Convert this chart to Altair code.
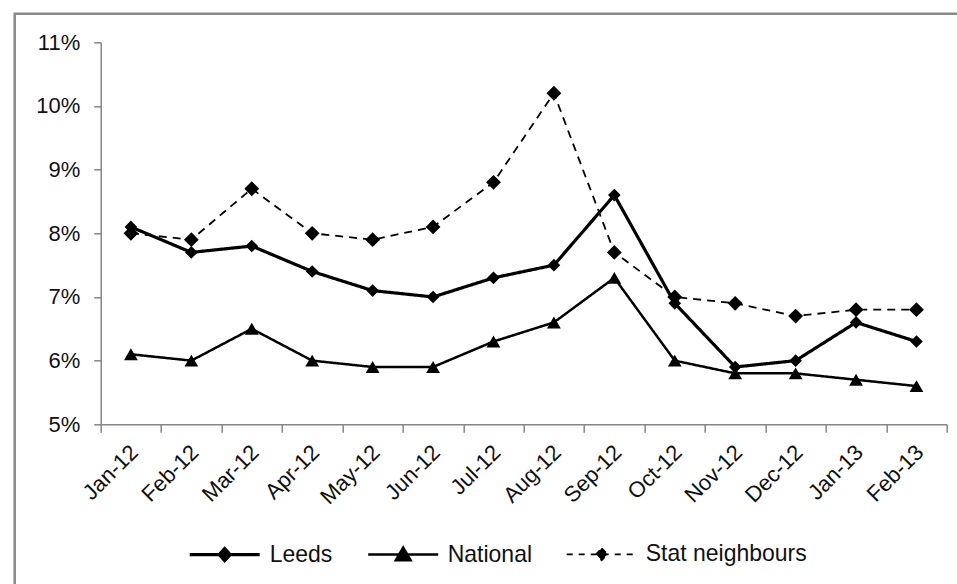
import altair as alt
import pandas as pd

months = ["Jan-12", "Feb-12", "Mar-12", "Apr-12", "May-12", "Jun-12", "Jul-12",
          "Aug-12", "Sep-12", "Oct-12", "Nov-12", "Dec-12", "Jan-13", "Feb-13"]
series = ["Leeds", "National", "Stat neighbours"]
leeds = [8.1, 7.7, 7.8, 7.4, 7.1, 7.0, 7.3, 7.5, 8.6, 6.9, 5.9, 6.0, 6.6, 6.3]
national = [6.1, 6.0, 6.5, 6.0, 5.9, 5.9, 6.3, 6.6, 7.3, 6.0, 5.8, 5.8, 5.7, 5.6]
stat_neighbours = [8.0, 7.9, 8.7, 8.0, 7.9, 8.1, 8.8, 10.2, 7.7, 7.0, 6.9, 6.7, 6.8, 6.8]
y_ticks = [0.05, 0.06, 0.07, 0.08, 0.09, 0.10, 0.11]

rows = []
for s, vals in zip(series, [leeds, national, stat_neighbours]):
    for m, v in zip(months, vals):
        rows.append({"month": m, "series": s, "value": v / 100.0})
df = pd.DataFrame(rows)

W, H = 846, 382
FONT = "Liberation Sans"
AXIS_GRAY = "#868686"

x_enc = alt.X(
    "month:O",
    bandPosition=0.5,
    scale=alt.Scale(type="band", domain=months, paddingInner=0, paddingOuter=0),
    axis=alt.Axis(
        title=None, tickBand="extent", labelAngle=-45, labelAlign="right",
        labelBaseline="middle", labelFontSize=22, labelFont=FONT, labelColor="#111",
        domainColor=AXIS_GRAY, tickColor=AXIS_GRAY, tickSize=8, labelPadding=16,
        labelOffset=3, domainWidth=1.5, tickWidth=1.5,
    ),
)
y_enc = alt.Y(
    "value:Q",
    scale=alt.Scale(domain=[0.05, 0.11], nice=False, zero=False),
    axis=alt.Axis(
        title=None, format=".0%", values=y_ticks, grid=False, labelFontSize=22,
        labelFont=FONT, labelColor="#111", domainColor=AXIS_GRAY, tickColor=AXIS_GRAY,
        tickSize=7, labelPadding=14, domainWidth=1.5, tickWidth=1.5,
    ),
)

dash_scale = alt.Scale(domain=series, range=[[1, 0], [1, 0], [8, 6]])
width_scale = alt.Scale(domain=series, range=[3.2, 1.8, 2.0])

base = alt.Chart(df)

lines = base.mark_line(color="black").encode(
    x=x_enc, y=y_enc,
    strokeDash=alt.StrokeDash("series:N", scale=dash_scale, legend=None),
    strokeWidth=alt.StrokeWidth("series:O", scale=width_scale, legend=None),
    detail="series:N",
)

points = base.mark_point(filled=True, color="black", opacity=1).encode(
    x=x_enc, y=y_enc,
    shape=alt.Shape("series:N", scale=alt.Scale(domain=series, range=["diamond", "triangle-up", "diamond"]), legend=None),
    size=alt.Size("series:N", scale=alt.Scale(domain=series, range=[160, 220, 160]), legend=None),
)

legend_paths = [
    "M-1,0H1M0,-0.17L0.16,0L0,0.17L-0.16,0Z",
    "M-1,0H1M0,-0.2L0.21,0.16L-0.21,0.16Z",
    "M-1,0H1M0,-0.17L0.16,0L0,0.17L-0.16,0Z",
]
leg = alt.Legend(
    orient="none", legendX=87, legendY=475, direction="horizontal", title=None,
    labelFontSize=23, labelFont=FONT, labelColor="#111", symbolSize=4900,
    symbolFillColor="black", symbolStrokeColor="black", labelOffset=8,
    columnPadding=30, padding=0, symbolOpacity=1, labelLimit=400,
)
legend_layer = base.mark_point(opacity=0, size=4900).encode(
    x=x_enc, y=y_enc,
    shape=alt.Shape("series:O", scale=alt.Scale(domain=series, range=legend_paths), legend=leg),
    strokeDash=alt.StrokeDash("series:O", scale=alt.Scale(domain=series, range=[[1, 0], [1, 0], [6, 6]]), legend=leg),
    strokeWidth=alt.StrokeWidth("series:O", scale=alt.Scale(domain=series, range=[3.2, 1.8, 2.0]), legend=leg),
    stroke=alt.Stroke("series:O", scale=alt.Scale(domain=series, range=["black", "black", "black"]), legend=leg),
    fill=alt.Fill("series:O", scale=alt.Scale(domain=series, range=["black", "black", "black"]), legend=leg),
)

frame = alt.Chart(pd.DataFrame({"k": [0]})).mark_rect(
    fillOpacity=0, stroke="#8a8a8a", strokeWidth=2.5
).encode(
    x=alt.value(-86), x2=alt.value(900), y=alt.value(-28.5), y2=alt.value(620)
)

chart = alt.layer(frame, lines, points, legend_layer).resolve_scale(
    shape="independent", strokeDash="independent", strokeWidth="independent"
).properties(
    width=W, height=H, autosize=alt.AutoSizeParams(type="none"),
    padding={"left": 100.7, "top": 42.3, "right": 10, "bottom": 160},
    background="white",
).configure_view(stroke=None)

chart.save("out.html", embed_options={"renderer": "svg", "actions": False})
